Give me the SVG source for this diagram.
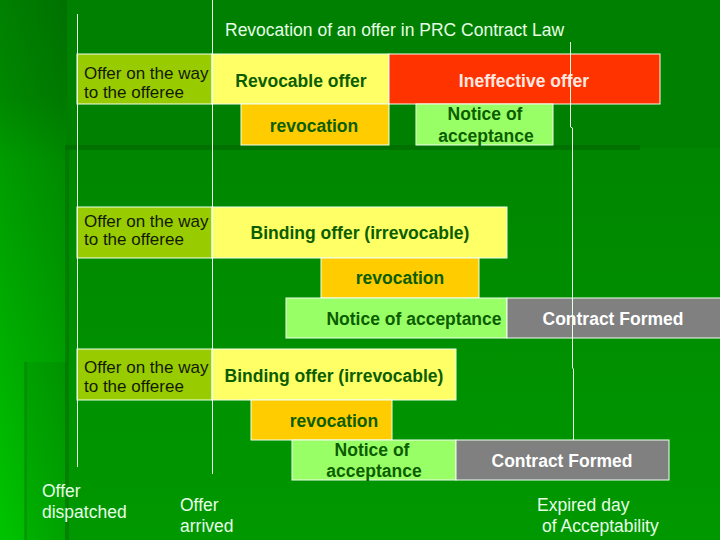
<svg xmlns="http://www.w3.org/2000/svg" width="720" height="540" viewBox="0 0 720 540">
  <style>
    text { font-family: "Liberation Sans", Arial, sans-serif; }
    .box { stroke: #f0fff0; stroke-width: 1; }
    .olive { fill: #99cc00; }
    .yellow { fill: #ffff66; }
    .red { fill: #ff3300; }
    .orange { fill: #ffcc00; }
    .lgreen { fill: #99ff66; }
    .gray { fill: #808080; }
    .lbl { font-size: 17px; fill: #111a00; }
    .b { font-size: 17.5px; font-weight: bold; text-anchor: middle; }
    .dg { fill: #0b5e00; }
    .wt { fill: #ffffff; }
    .pk { fill: #ffe8e0; }
    .axis { font-size: 17.5px; fill: #e6ffe6; }
    .guide { stroke: #e6ffe6; stroke-width: 1; fill: none; }
  </style>
  <defs>
    <linearGradient id="lowerBg" x1="0" y1="0" x2="0" y2="1">
      <stop offset="0" stop-color="#008600"/>
      <stop offset="1" stop-color="#009800"/>
    </linearGradient>
    <linearGradient id="leftBg" gradientUnits="userSpaceOnUse" x1="0" y1="0" x2="0" y2="540">
      <stop offset="0" stop-color="#008000"/>
      <stop offset="0.18" stop-color="#008800"/>
      <stop offset="0.3" stop-color="#009c00"/>
      <stop offset="1" stop-color="#00c400"/>
    </linearGradient>
    <linearGradient id="leftShade" x1="0" y1="0" x2="1" y2="0">
      <stop offset="0" stop-color="#000000" stop-opacity="0"/>
      <stop offset="1" stop-color="#000000" stop-opacity="0.12"/>
    </linearGradient>
  </defs>

  <!-- background -->
  <g id="background">
    <rect x="0" y="0" width="720" height="540" fill="#008000"/>
    <rect x="0" y="0" width="67" height="540" fill="url(#leftBg)"/>
    <rect x="0" y="0" width="67" height="540" fill="url(#leftShade)"/>
    <rect x="67" y="148" width="653" height="392" fill="url(#lowerBg)"/>
    <rect x="65" y="145" width="575" height="5" fill="#006a00" opacity="0.7"/>
    <rect x="65" y="145" width="4" height="395" fill="#006e00" opacity="0.5"/>
    <rect x="25" y="362" width="42" height="178" fill="#000000" opacity="0.06"/>
    <rect x="24" y="362" width="3" height="178" fill="#007800" opacity="0.4"/>
  </g>

  <text x="225" y="36" fill="#e6ffe6" style="font-size:17.5px">Revocation of an offer in PRC Contract Law</text>

  <!-- Row 1 -->
  <g id="row1-way">
    <rect class="box olive" x="77" y="54" width="135" height="50"/>
    <text class="lbl" x="84" y="79">Offer on the way</text>
    <text class="lbl" x="84" y="98">to the offeree</text>
  </g>
  <g id="row1-revocable">
    <rect class="box yellow" x="212" y="54" width="177" height="50"/>
    <text class="b dg" x="301" y="87">Revocable offer</text>
  </g>
  <g id="row1-ineffective">
    <rect class="box red" x="389" y="54" width="271" height="50"/>
    <text class="b pk" x="524" y="87">Ineffective offer</text>
  </g>
  <g id="row1-revocation">
    <rect class="box orange" x="241" y="104" width="148" height="41"/>
    <text class="b dg" x="314" y="132">revocation</text>
  </g>
  <g id="row1-notice">
    <rect class="box lgreen" x="416" y="104" width="137" height="41"/>
    <text class="b dg" x="485" y="120">Notice of</text>
    <text class="b dg" x="486" y="142">acceptance</text>
  </g>

  <!-- Row 2 -->
  <g id="row2-way">
    <rect class="box olive" x="77" y="207" width="135" height="51"/>
    <text class="lbl" x="84" y="227">Offer on the way</text>
    <text class="lbl" x="84" y="245">to the offeree</text>
  </g>
  <g id="row2-binding">
    <rect class="box yellow" x="212" y="207" width="295" height="51"/>
    <text class="b dg" x="360" y="239">Binding offer (irrevocable)</text>
  </g>
  <g id="row2-revocation">
    <rect class="box orange" x="321" y="258" width="158" height="40"/>
    <text class="b dg" x="400" y="284">revocation</text>
  </g>
  <g id="row2-notice">
    <rect class="box lgreen" x="286" y="298" width="221" height="40"/>
    <text class="b dg" x="414" y="325">Notice of acceptance</text>
  </g>
  <g id="row2-contract">
    <rect class="box gray" x="507" y="298" width="214" height="40"/>
    <text class="b wt" x="613" y="325">Contract Formed</text>
  </g>

  <!-- Row 3 -->
  <g id="row3-way">
    <rect class="box olive" x="77" y="349" width="135" height="51"/>
    <text class="lbl" x="84" y="373">Offer on the way</text>
    <text class="lbl" x="84" y="392">to the offeree</text>
  </g>
  <g id="row3-binding">
    <rect class="box yellow" x="212" y="349" width="244" height="51"/>
    <text class="b dg" x="334" y="382">Binding offer (irrevocable)</text>
  </g>
  <g id="row3-revocation">
    <rect class="box orange" x="251" y="400" width="141" height="40"/>
    <text class="b dg" x="334" y="427">revocation</text>
  </g>
  <g id="row3-notice">
    <rect class="box lgreen" x="292" y="440" width="164" height="40"/>
    <text class="b dg" x="372" y="456">Notice of</text>
    <text class="b dg" x="374" y="477">acceptance</text>
  </g>
  <g id="row3-contract">
    <rect class="box gray" x="456" y="440" width="213" height="40"/>
    <text class="b wt" x="562" y="467">Contract Formed</text>
  </g>

  <!-- time markers -->
  <g id="connectors">
    <line class="guide" x1="77.5" y1="14" x2="77.5" y2="467"/>
    <line class="guide" x1="212.5" y1="0" x2="212.5" y2="474"/>
    <polyline class="guide" points="570.5,42 570.5,127 572.5,128 572.5,368 573.5,369 573.5,440"/>
  </g>

  <g id="label-dispatched">
    <text class="axis" x="42" y="497">Offer</text>
    <text class="axis" x="42" y="518">dispatched</text>
  </g>
  <g id="label-arrived">
    <text class="axis" x="180" y="511">Offer</text>
    <text class="axis" x="180" y="532">arrived</text>
  </g>
  <g id="label-expired">
    <text class="axis" x="537" y="511">Expired day</text>
    <text class="axis" x="542" y="532">of Acceptability</text>
  </g>
</svg>
